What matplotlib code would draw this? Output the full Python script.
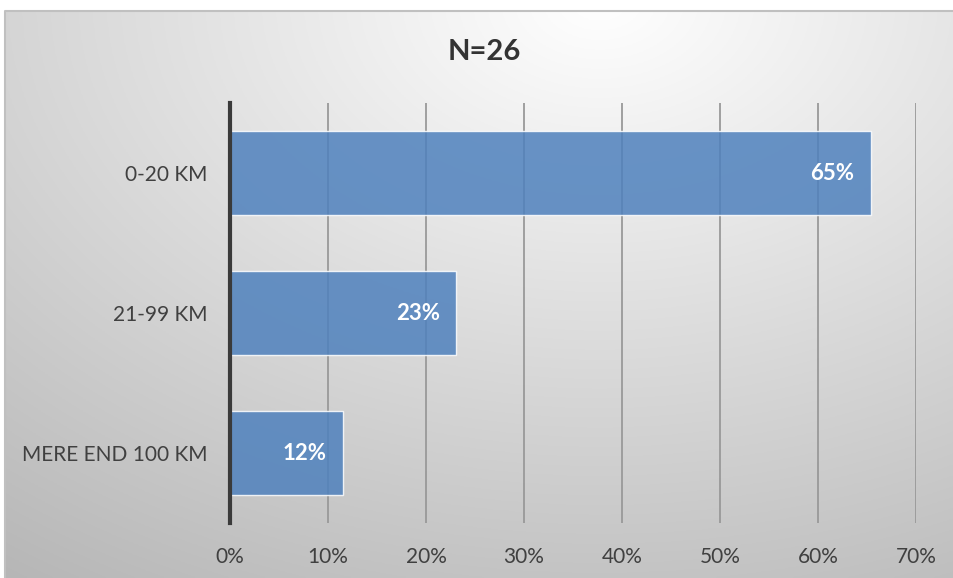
import numpy as np
import matplotlib.pyplot as plt
from matplotlib.ticker import PercentFormatter

# data
categories = ['0-20 KM', '21-99 KM', 'MERE END 100 KM']
shares = [65.4, 23.1, 11.5]
labels = ['65%', '23%', '12%']
title = 'N=26'

plt.rcParams['font.family'] = ['Lato', 'DejaVu Sans']

W, H = 954, 578
fig = plt.figure(figsize=(W / 100, H / 100), dpi=100)

# background with radial gradient and frame
bg = fig.add_axes([0, 0, 1, 1], zorder=-10)
bg.set_xlim(0, W)
bg.set_ylim(H, 0)
bg.axis('off')
xx, yy = np.meshgrid(np.linspace(5, W, 400), np.linspace(11, H, 250))
r = np.sqrt(((xx - 600) / 900) ** 2 + ((yy - 0) / 620) ** 2)
shade = 1.0 - 0.25 * np.clip(r, 0, 1.2)
img = np.dstack([shade, shade, shade])
bg.imshow(np.clip(img, 0, 1), extent=[5, W, H, 11], aspect='auto')
bg.plot([5, 5, W], [H, 11, 11], color='#c0c0c0', lw=1.5)

ax = fig.add_axes([230 / W, 1 - 523 / H, 686 / W, 420 / H])
ax.patch.set_alpha(0)
y = np.arange(len(categories))
bars = ax.barh(y, shares, height=0.6, color='#4f81bd', alpha=0.85,
               edgecolor='white', linewidth=1, zorder=3)
ax.set_ylim(len(categories) - 0.5, -0.5)
ax.set_xlim(0, 70)
ax.set_xticks(np.arange(0, 71, 10))
ax.xaxis.set_major_formatter(PercentFormatter(decimals=0))
ax.set_yticks(y)
ax.set_yticklabels(categories)
ax.tick_params(length=0, labelsize=15, colors='#404040')
ax.tick_params(axis='x', pad=17)
ax.tick_params(axis='y', pad=16)
ax.grid(axis='x', color='#999999', lw=1.3, zorder=1)
for s in ['top', 'right', 'bottom']:
    ax.spines[s].set_visible(False)
ax.spines['left'].set_color('#3a3a3a')
ax.spines['left'].set_linewidth(3)
ax.spines['left'].set_zorder(4)

for b, lab in zip(bars, labels):
    ax.annotate(lab, (b.get_width(), b.get_y() + b.get_height() / 2),
                xytext=(-12, 0), textcoords='offset points',
                ha='right', va='center', color='white',
                fontsize=16, fontweight='bold', zorder=5)

fig.text(484 / W, 1 - 52 / H, title, ha='center', va='center',
         fontsize=21, fontweight='bold', color='#333333')

fig.savefig('out.png', dpi=100)
